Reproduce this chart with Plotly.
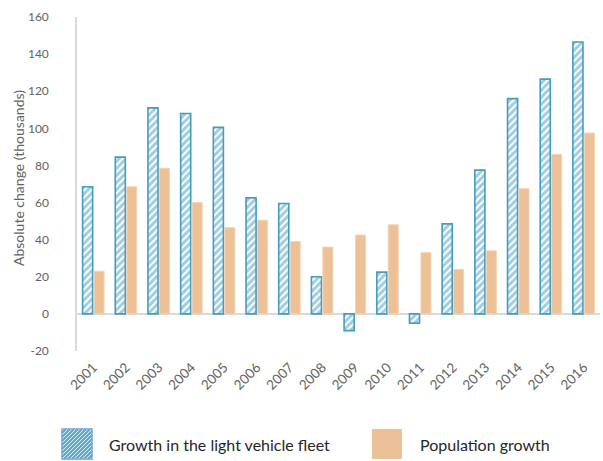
import plotly.graph_objects as go

# Annual absolute change, thousands
years = [str(y) for y in range(2001, 2017)]
fleet_growth = [68.5, 84.5, 111, 108, 100.5, 62.5, 59.5, 20, -9, 22.5, -5, 48.5, 77.5, 116, 126.5, 146.5]
population_growth = [23, 68.5, 78.5, 60, 46.5, 50.5, 39, 36, 42.5, 48, 33, 24, 34, 67.5, 86, 97.5]

y_ticks = [-20, 0, 20, 40, 60, 80, 100, 120, 140, 160]
y_tick_text = [str(v) for v in y_ticks]
series_names = ["Growth in the light vehicle fleet", "Population growth"]

BLUE = "#459CBE"
ORANGE = "#EDC197"
GREY_TEXT = "#626262"
AXIS_GREY = "#D9D9D9"
FONT = "Lato"

fig = go.Figure()
fig.add_trace(go.Bar(
    x=years, y=fleet_growth, name=series_names[0],
    marker=dict(
        color="white",
        line=dict(color=BLUE, width=1.6),
        pattern=dict(shape="/", fgcolor=BLUE, bgcolor="white", size=5, solidity=0.6),
    ),
    showlegend=False,
))
fig.add_trace(go.Bar(
    x=years, y=population_growth, name=series_names[1],
    marker=dict(color=ORANGE, line=dict(color="#F3D4B5", width=1)),
    showlegend=False,
))

# Legend drawn below the plot with large swatches
W, H = 603, 461
L, R, T, B = 77, 3, 17, 110
pw, ph = W - L - R, H - T - B


def px(x):
    return (x - L) / pw


def py(y):
    return (H - B - y) / ph


shapes = []
sx0, sx1, sy0, sy1 = 62, 92, 429, 459
shapes.append(dict(type="rect", xref="paper", yref="paper",
                   x0=px(sx0), x1=px(sx1), y0=py(sy1), y1=py(sy0),
                   fillcolor="white", line=dict(width=0), layer="above"))
# diagonal hatching inside the blue swatch
step = 4
segs = []
size = sx1 - sx0
for k in range(-size, size + 1, step):
    pts = []
    for t in range(0, size + 1):
        yy = t - k
        if 0 <= yy <= size:
            pts.append((t, yy))
    if len(pts) >= 2:
        (ax, ay), (bx, by) = pts[0], pts[-1]
        segs.append(f"M{px(sx0 + ax)},{py(sy1 - ay)} L{px(sx0 + bx)},{py(sy1 - by)}")
shapes.append(dict(type="path", xref="paper", yref="paper", path=" ".join(segs),
                   line=dict(color="#5BA6D0", width=2.2), layer="above"))
shapes.append(dict(type="rect", xref="paper", yref="paper",
                   x0=px(sx0), x1=px(sx1), y0=py(sy1), y1=py(sy0),
                   fillcolor="rgba(0,0,0,0)", line=dict(color="#6FA8DC", width=1.5), layer="above"))
shapes.append(dict(type="rect", xref="paper", yref="paper",
                   x0=px(372), x1=px(402), y0=py(459), y1=py(429),
                   fillcolor=ORANGE, line=dict(width=0), layer="above"))

annotations = [
    dict(text=series_names[0], xref="paper", yref="paper", x=px(107), y=py(444),
         xanchor="left", yanchor="middle", showarrow=False,
         font=dict(family=FONT, size=16, color="#262626")),
    dict(text=series_names[1], xref="paper", yref="paper", x=px(418), y=py(444),
         xanchor="left", yanchor="middle", showarrow=False,
         font=dict(family=FONT, size=16, color="#262626")),
    dict(text="Absolute change (thousands)", xref="paper", yref="paper",
         x=px(18), y=py(178), xanchor="center", yanchor="middle", textangle=-90,
         showarrow=False, font=dict(family=FONT, size=14, color=GREY_TEXT)),
]

fig.update_layout(
    width=W, height=H,
    margin=dict(l=L, r=R, t=T, b=B),
    paper_bgcolor="white", plot_bgcolor="white",
    barmode="group", bargap=0.3, bargroupgap=0.12,
    font=dict(family=FONT, color=GREY_TEXT, size=13),
    shapes=shapes, annotations=annotations,
    showlegend=False,
)
fig.update_xaxes(
    type="category", showline=False, showgrid=False, zeroline=False,
    tickangle=-45, tickfont=dict(family=FONT, size=13.5, color=GREY_TEXT),
    ticks="", ticklabelstandoff=5,
)
fig.update_yaxes(
    range=[-20, 160], tickvals=y_ticks, ticktext=y_tick_text, showgrid=False,
    showline=True, linecolor=AXIS_GREY, linewidth=1.5,
    zeroline=True, zerolinecolor=AXIS_GREY, zerolinewidth=1.5,
    ticks="", ticklabelstandoff=24,
    tickfont=dict(family=FONT, size=12, color=GREY_TEXT),
)

fig.write_html("out.html")
